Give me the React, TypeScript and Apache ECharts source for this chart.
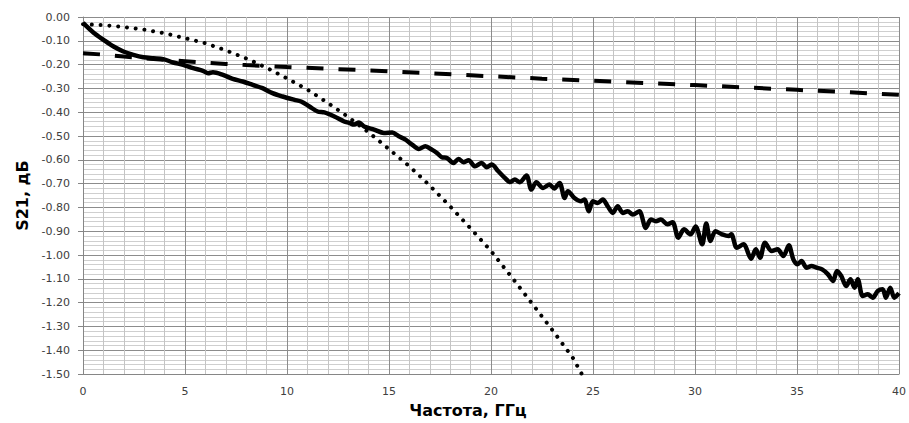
import React, { useEffect, useRef } from "react";
import * as echarts from "echarts";

// Dotted curve
const dottedFreq = [0, 1, 2, 3, 4, 5, 6, 7, 8, 9, 10, 11, 12, 13, 14, 15, 16, 17, 18, 19, 20, 21, 22, 23, 24, 24.45];
const dottedS21 = [-0.03, -0.034, -0.042, -0.053, -0.068, -0.089, -0.11, -0.14, -0.174, -0.213, -0.258, -0.305, -0.361, -0.42, -0.484, -0.555, -0.627, -0.708, -0.796, -0.888, -0.983, -1.091, -1.202, -1.314, -1.43, -1.5];

// Dashed curve
const dashedFreq = [0, 1, 2, 3, 4, 5, 6, 7, 8, 9, 10, 12.5, 15, 17.5, 20, 22.5, 25, 27.5, 30, 32.5, 35, 37.5, 40];
const dashedS21 = [-0.152, -0.158, -0.166, -0.173, -0.18, -0.186, -0.192, -0.197, -0.202, -0.206, -0.21, -0.219, -0.228, -0.238, -0.249, -0.259, -0.268, -0.277, -0.286, -0.296, -0.306, -0.316, -0.327];

// Solid (measured) curve
const solidFreq = [
  0, 0.52, 1.01, 1.5, 1.98, 2.47, 2.96, 3.45, 3.93, 4.42, 4.91, 5.4, 5.88, 6.13, 6.37, 6.86, 7.34, 7.83, 8.32, 8.8, 9.29, 9.78,
  10.37, 10.69, 11.1, 11.5, 11.83, 12.32, 12.8, 13.05, 13.29, 13.53, 13.78, 14.27, 14.75, 15.16, 15.48, 15.81, 16.13, 16.46,
  16.78, 17.1, 17.35, 17.59, 17.84, 18.16, 18.41, 18.65, 18.9, 19.22, 19.54, 19.79, 20.03, 20.36, 20.68, 20.93, 21.17, 21.41,
  21.74, 21.98, 22.22, 22.55, 22.87, 23.1, 23.36, 23.61, 23.77, 24.09, 24.42, 24.58, 24.79, 24.99, 25.23, 25.48, 25.72, 25.97,
  26.21, 26.46, 26.7, 26.95, 27.27, 27.59, 27.84, 28.08, 28.33, 28.65, 28.9, 29.18, 29.46, 29.78, 30.03, 30.35, 30.55, 30.76,
  31.0, 31.33, 31.65, 31.78, 32.05, 32.38, 32.75, 32.98, 33.19, 33.43, 33.76, 34.05, 34.33, 34.6, 34.82, 35.03, 35.22, 35.47,
  35.71, 35.96, 36.23, 36.52, 36.77, 36.96, 37.17, 37.41, 37.62, 37.82, 37.98, 38.22, 38.47, 38.71, 38.96, 39.2, 39.36, 39.57,
  39.77, 40,
];
const solidS21 = [
  -0.025, -0.066, -0.096, -0.124, -0.145, -0.159, -0.169, -0.173, -0.177, -0.191, -0.201, -0.215, -0.226, -0.236, -0.232, -0.243, -0.26, -0.271, -0.285, -0.299, -0.32, -0.334,
  -0.348, -0.355, -0.376, -0.397, -0.401, -0.418, -0.439, -0.445, -0.452, -0.443, -0.46, -0.473, -0.487, -0.485, -0.501, -0.515, -0.536, -0.554,
  -0.543, -0.557, -0.571, -0.589, -0.592, -0.613, -0.596, -0.61, -0.602, -0.627, -0.613, -0.631, -0.62, -0.648, -0.676, -0.693, -0.683, -0.694,
  -0.666, -0.725, -0.694, -0.718, -0.704, -0.72, -0.697, -0.76, -0.732, -0.76, -0.774, -0.767, -0.816, -0.774, -0.781, -0.767, -0.795, -0.823,
  -0.795, -0.823, -0.816, -0.83, -0.816, -0.886, -0.851, -0.858, -0.851, -0.871, -0.862, -0.927, -0.892, -0.913, -0.88, -0.955, -0.867, -0.941,
  -0.9, -0.913, -0.92, -0.913, -0.969, -0.955, -1.015, -0.976, -1.011, -0.948, -0.983, -0.976, -1.004, -0.959, -1.018, -1.039, -1.025, -1.053,
  -1.046, -1.053, -1.06, -1.081, -1.109, -1.067, -1.088, -1.13, -1.102, -1.137, -1.102, -1.172, -1.165, -1.179, -1.151, -1.144, -1.179, -1.137,
  -1.179, -1.16,
];

const xName = "Частота, ГГц";
const yName = "S21, дБ";

const pairs = (xs: number[], ys: number[]) => xs.map((x, i) => [x, ys[i]]);

export default function App() {
  const ref = useRef<HTMLDivElement>(null);
  useEffect(() => {
    if (!ref.current) return;
    const chart = echarts.init(ref.current, undefined, { renderer: "svg" });
    const font = "DejaVu Sans";
    chart.setOption({
      animation: false,
      backgroundColor: "#ffffff",
      grid: { left: 83, right: 6, top: 17, bottom: 48, containLabel: false },
      xAxis: {
        type: "value",
        min: 0,
        max: 40,
        interval: 5,
        name: xName,
        nameLocation: "middle",
        nameGap: 26,
        nameTextStyle: { fontFamily: font, fontSize: 16, fontWeight: "bold", color: "#000", padding: [0, 46, 0, 0] },
        axisLine: { show: true, onZero: false, lineStyle: { color: "#868686", width: 1 } },
        axisTick: { show: false },
        axisLabel: { fontFamily: font, fontSize: 11, color: "#404040", margin: 12 },
        splitLine: { show: true, lineStyle: { color: "#8c8c8c", width: 1 } },
        minorTick: { show: false, splitNumber: 5 },
        minorSplitLine: { show: true, lineStyle: { color: "#c4c4c4", width: 1 } },
      },
      yAxis: {
        type: "value",
        min: -1.5,
        max: 0,
        interval: 0.1,
        name: yName,
        nameLocation: "middle",
        nameGap: 52,
        nameTextStyle: { fontFamily: font, fontSize: 16, fontWeight: "bold", color: "#000" },
        axisLine: { show: true, onZero: false, lineStyle: { color: "#868686", width: 1 } },
        axisTick: { show: true, length: 5, lineStyle: { color: "#868686" } },
        axisLabel: {
          fontFamily: font,
          fontSize: 11,
          color: "#404040",
          margin: 13,
          formatter: (v: number) => v.toFixed(2),
        },
        splitLine: { show: true, lineStyle: { color: "#8c8c8c", width: 1 } },
        minorTick: { show: false, splitNumber: 5 },
        minorSplitLine: { show: true, lineStyle: { color: "#cfcfcf", width: 1 } },
      },
      series: [
        {
          type: "line",
          data: pairs(dottedFreq, dottedS21),
          symbol: "none",
          z: 2,
          lineStyle: { color: "#000", width: 4, type: [0.01, 8.8], cap: "round" },
        },
        {
          type: "line",
          data: pairs(dashedFreq, dashedS21),
          symbol: "none",
          z: 3,
          lineStyle: { color: "#000", width: 4, type: [17, 15], cap: "butt" },
        },
        {
          type: "line",
          data: pairs(solidFreq, solidS21),
          symbol: "none",
          smooth: 0.3,
          z: 4,
          lineStyle: { color: "#000", width: 4.5, join: "round" },
        },
      ],
    });
    return () => chart.dispose();
  }, []);
  return <div ref={ref} style={{ position: "fixed", left: 0, top: 0, width: 909, height: 423 }} />;
}
